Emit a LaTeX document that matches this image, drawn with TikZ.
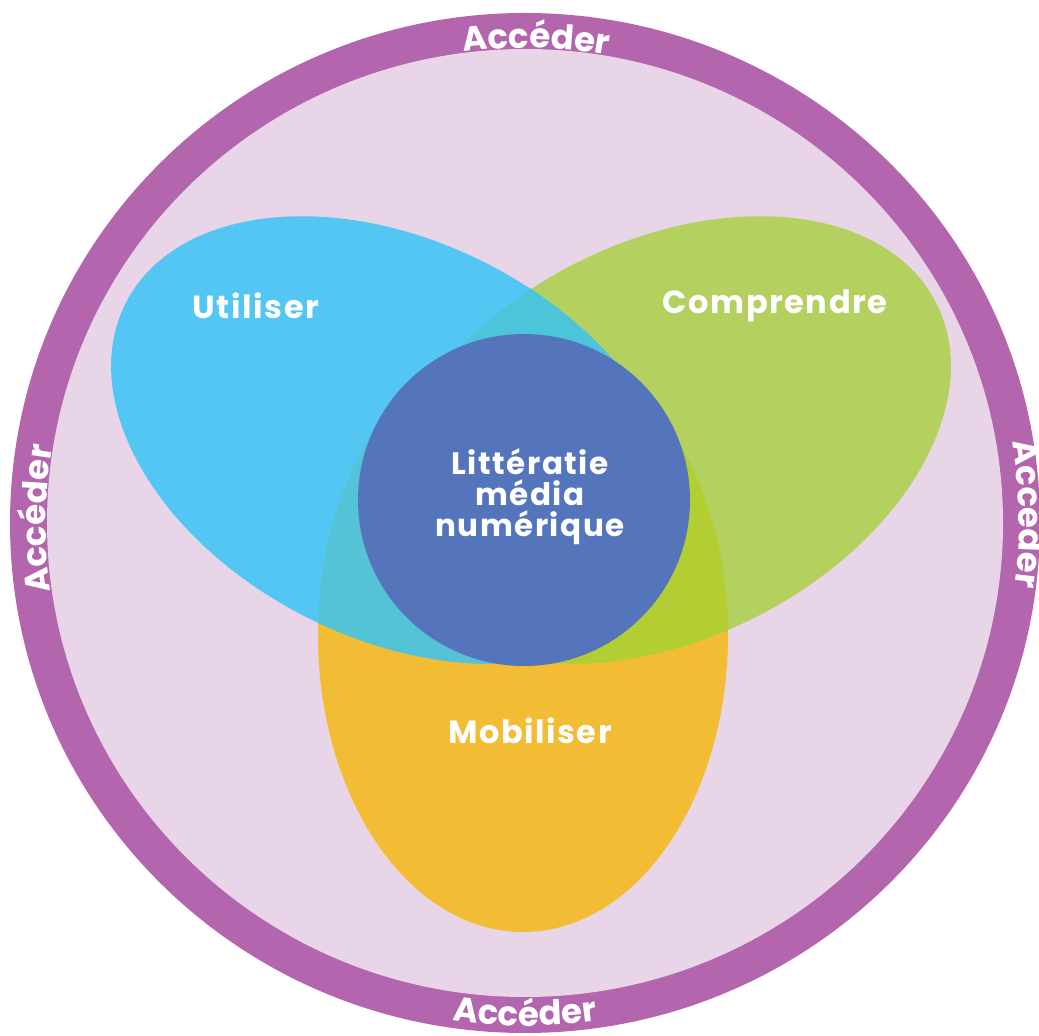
\documentclass[tikz,border=0pt]{standalone}
\usepackage{fontspec}
\setmainfont{Poppins}[LetterSpace=5]
\usetikzlibrary{decorations.text}

\definecolor{ringpurple}{HTML}{B366AD}
\definecolor{discpink}{HTML}{E8D5E8}
\definecolor{usecol}{HTML}{53C6F3}
\definecolor{undercol}{HTML}{B4D15F}
\definecolor{mobcol}{HTML}{F2BC35}
\definecolor{usemob}{HTML}{54C3D5}
\definecolor{undermob}{HTML}{B3CE33}
\definecolor{useunder}{HTML}{4CC4DA}
\definecolor{corecol}{HTML}{5475BC}

% the three petals and the core
\def\usepath{(396,596) ellipse [x radius=303, y radius=198.5]}
\def\underpath{(666,596) ellipse [x radius=303, y radius=198.5]}
\def\mobpath{(523,401) ellipse [x radius=205, y radius=297]}

\begin{document}
\begin{tikzpicture}[x=1pt, y=1pt,
  usegeo/.style={rotate around={-26.8:(396,596)}},
  undergeo/.style={rotate around={26.8:(666,596)}},
  lbl/.style={text=white, font=\fontsize{32}{31}\selectfont\bfseries,
    align=center, inner sep=0pt},
  corelbl/.style={lbl, font=\fontsize{31}{31}\selectfont\bfseries},
  ringtext/.style={decorate, decoration={text along path, text align=center,
    text color=white,
    text={|\fontsize{34}{34}\selectfont\bfseries|Accéder}}}]

\useasboundingbox (0,0) rectangle (1039,1036);
\coordinate (o) at (525,513);

% outer band and inner disc
\fill[ringpurple] (o) ellipse [x radius=515, y radius=510];
\fill[discpink] (o) ellipse [x radius=478, y radius=474];

% petals
\fill[mobcol] \mobpath;
\fill[undercol, undergeo] \underpath;
\fill[usecol, usegeo] \usepath;

% overlaps
\begin{scope}
  \clip \mobpath;
  \fill[undermob, undergeo] \underpath;
  \fill[usemob, usegeo] \usepath;
\end{scope}
\begin{scope}
  \clip[undergeo] \underpath;
  \fill[useunder, usegeo] \usepath;
\end{scope}

% core
\fill[corecol] (524,536) circle [radius=166];

% labels
\node[lbl] (use) at (256,730) {Utiliser};
\node[lbl] (under) at (775,730) {Comprendre};
\node[lbl] (mob) at (530,305) {Mobiliser};
\node[corelbl] (core) at (530,539) {Littératie\\média\\numérique};

% band labels
\path[ringtext, shift={(o)}] (108.7:478 and 475) arc[start angle=108.7, end angle=68.7, x radius=478, y radius=475];
\path[ringtext, shift={(o)}] (199.5:479 and 475) arc[start angle=199.5, end angle=159.5, x radius=479, y radius=475];
\path[ringtext, shift={(o)}] (21:494 and 489) arc[start angle=21, end angle=-19, x radius=494, y radius=489];
\path[ringtext, shift={(o)}] (250:508 and 503) arc[start angle=250, end angle=290, x radius=508, y radius=503];
\end{tikzpicture}
\end{document}
